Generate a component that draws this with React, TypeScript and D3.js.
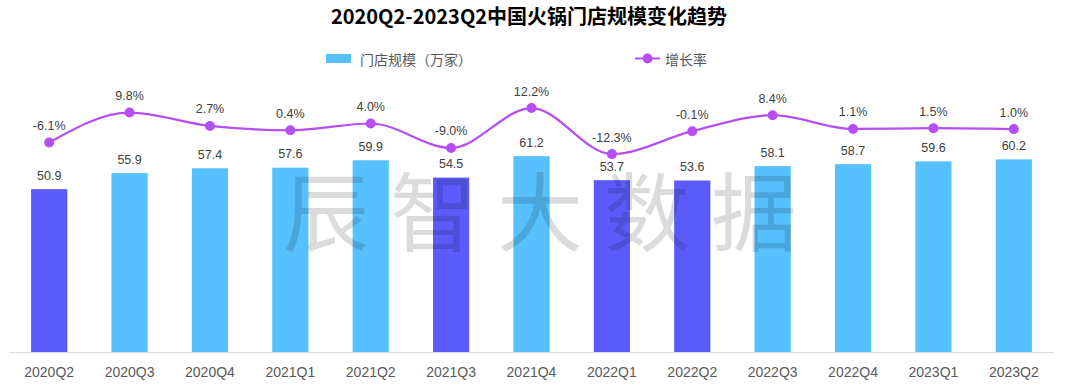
import React from "react";
import * as d3 from "d3";

const categories = ["2020Q2","2020Q3","2020Q4","2021Q1","2021Q2","2021Q3","2021Q4","2022Q1","2022Q2","2022Q3","2022Q4","2023Q1","2023Q2"];
const storeCounts = [50.9,55.9,57.4,57.6,59.9,54.5,61.2,53.7,53.6,58.1,58.7,59.6,60.2];
const growthRates = [-0.061,0.098,0.027,0.004,0.040,-0.090,0.122,-0.123,-0.001,0.084,0.011,0.015,0.010];
const highlighted = ["2020Q2","2021Q3","2022Q1","2022Q2"];

const W = 1080, H = 390;
const LIGHT = "#56C1FE";
const DARK = "#5B5BFB";
const LINE = "#B44EF5";
const LATIN = "'Liberation Sans', Arial, 'Noto Sans CJK SC', sans-serif";
const CJK = "'Noto Sans CJK SC', 'Liberation Sans', sans-serif";

export default function App() {
  const x = d3.scaleBand<string>().domain(categories).range([9, 1054]).paddingInner(0.55).paddingOuter(0.275);
  const y = d3.scaleLinear().domain([0, 100]).range([352, 32]);
  const y2 = d3.scaleLinear().domain([-0.2, 0.2]).range([168.6, 93.4]);
  const cx = (c: string) => (x(c) as number) + x.bandwidth() / 2;
  const pts: [number, number][] = categories.map((c, i) => [cx(c), y2(growthRates[i])]);
  const linePath = d3.line().curve(d3.curveMonotoneX)(pts) || "";
  const fmtPct = (v: number) => (v * 100).toFixed(1) + "%";
  const wm = "辰智大数据";
  const wmStep = 107;
  const wmCenter = 540;

  return (
    <div style={{ position: "absolute", left: 0, top: 0 }}>
      <svg width={W} height={H} style={{ display: "block", background: "#fff" }}>
        <text x={529} y={24} textAnchor="middle" fontFamily={CJK} fontWeight={700} fontSize={20} fill="#000">
          2020Q2-2023Q2中国火锅门店规模变化趋势
        </text>
        {/* legend */}
        <rect x={326} y={54} width={25} height={9} fill={LIGHT} />
        <text x={360} y={58.5} dominantBaseline="central" fontFamily={CJK} fontSize={14} fill="#595959">门店规模（万家）</text>
        <line x1={635} x2={660} y1={58.5} y2={58.5} stroke={LINE} strokeWidth={2} />
        <circle cx={647.5} cy={58.5} r={5} fill={LINE} />
        <text x={665} y={58.5} dominantBaseline="central" fontFamily={CJK} fontSize={14} fill="#595959">增长率</text>

        {/* axis */}
        <line x1={9} x2={1054} y1={352.5} y2={352.5} stroke="#D9D9D9" strokeWidth={1} />
        {categories.map((c) => (
          <text key={"xl" + c} x={cx(c)} y={377} textAnchor="middle" fontFamily={LATIN} fontSize={14} fill="#595959">{c}</text>
        ))}

        {/* bars */}
        {categories.map((c, i) => (
          <rect key={"b" + c} x={x(c)} y={y(storeCounts[i])} width={x.bandwidth()} height={y(0) - y(storeCounts[i])}
            fill={highlighted.includes(c) ? DARK : LIGHT} />
        ))}
        {categories.map((c, i) => (
          <text key={"bv" + c} x={cx(c)} y={y(storeCounts[i]) - 9.5} textAnchor="middle" fontFamily={LATIN} fontSize={12.5} fill="#404040">
            {storeCounts[i].toFixed(1)}
          </text>
        ))}

        {/* watermark */}
        {wm.split("").map((ch, i) => (
          <text key={"wm" + i} x={wmCenter + (i - 2) * wmStep} y={207} textAnchor="middle" dominantBaseline="central"
            fontFamily={CJK} fontSize={86} fill="#000" fillOpacity={0.14}>{ch}</text>
        ))}

        {/* line */}
        <path d={linePath} fill="none" stroke={LINE} strokeWidth={2.2} />
        {pts.map((p, i) => (
          <circle key={"pt" + i} cx={p[0]} cy={p[1]} r={5} fill={LINE} />
        ))}
        {pts.map((p, i) => (
          <text key={"pl" + i} x={p[0]} y={p[1] - 12.5} textAnchor="middle" fontFamily={LATIN} fontSize={12.5} fill="#404040">
            {fmtPct(growthRates[i])}
          </text>
        ))}
      </svg>
    </div>
  );
}
